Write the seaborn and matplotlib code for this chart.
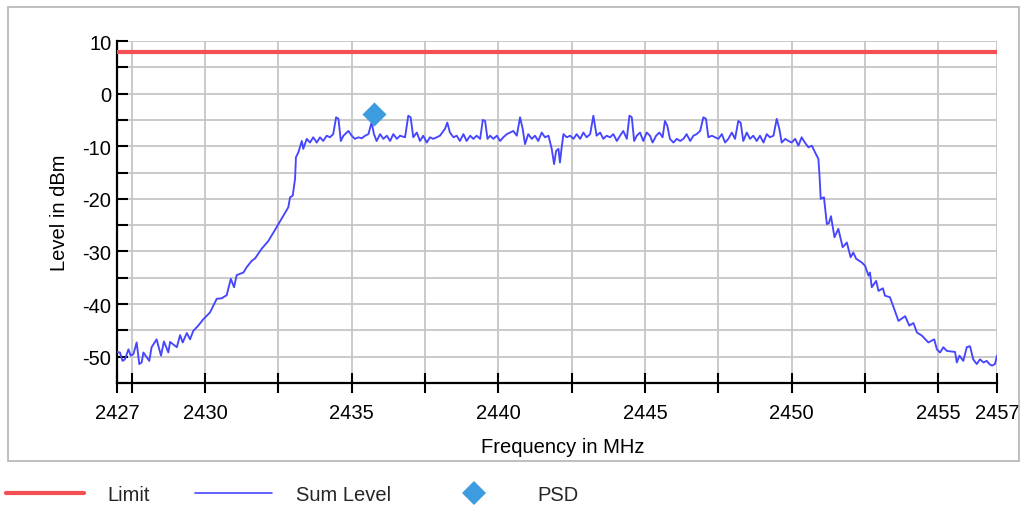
import matplotlib
matplotlib.use("Agg")
import matplotlib.pyplot as plt
from matplotlib.lines import Line2D
from matplotlib.patches import Rectangle
import seaborn as sns
import pandas as pd

# Measured spectrum trace (frequency in MHz, level in dBm)
freq_mhz = [
    2427.00, 2427.10, 2427.19, 2427.27, 2427.39, 2427.47, 2427.56, 2427.67, 2427.76, 2427.84,
    2427.90, 2428.01, 2428.10, 2428.18, 2428.35, 2428.50, 2428.60, 2428.75, 2428.81, 2429.04,
    2429.15, 2429.24, 2429.38, 2429.49, 2429.60, 2429.77, 2429.94, 2430.17, 2430.40, 2430.57,
    2430.74, 2430.88, 2430.99, 2431.08, 2431.31, 2431.42, 2431.59, 2431.71, 2431.93, 2432.16,
    2432.44, 2432.67, 2432.84, 2432.90, 2432.99, 2433.07,
    2433.10, 2433.18, 2433.30, 2433.35, 2433.47, 2433.58, 2433.69, 2433.81, 2433.92, 2434.03,
    2434.15, 2434.26, 2434.37, 2434.47, 2434.55, 2434.63, 2434.72, 2434.83, 2434.89, 2435.00,
    2435.11, 2435.23, 2435.34, 2435.46, 2435.57, 2435.68, 2435.76, 2435.85, 2435.97, 2436.08,
    2436.20, 2436.31, 2436.42, 2436.54, 2436.65, 2436.82, 2436.93, 2437.01, 2437.10, 2437.22,
    2437.33, 2437.44, 2437.56, 2437.67, 2437.78, 2437.90, 2438.01, 2438.18, 2438.26, 2438.35,
    2438.47, 2438.58,
    2438.69, 2438.81, 2438.92, 2439.04, 2439.15, 2439.26, 2439.38, 2439.47, 2439.55, 2439.63,
    2439.72, 2439.83, 2439.95, 2440.06, 2440.17, 2440.29, 2440.40, 2440.51, 2440.63, 2440.74,
    2440.83, 2440.91, 2441.02, 2441.14, 2441.25, 2441.36, 2441.48, 2441.59, 2441.71, 2441.82,
    2441.90, 2441.97, 2442.05, 2442.10, 2442.16, 2442.22, 2442.33, 2442.45, 2442.56, 2442.67,
    2442.79, 2442.90, 2443.01, 2443.13, 2443.24, 2443.35, 2443.47, 2443.58, 2443.69, 2443.81,
    2443.92, 2444.04, 2444.15, 2444.26, 2444.38, 2444.47,
    2444.55, 2444.63, 2444.72, 2444.83, 2444.94, 2445.06, 2445.17, 2445.26, 2445.38, 2445.49,
    2445.60, 2445.68, 2445.76, 2445.85, 2445.97, 2446.08, 2446.20, 2446.31, 2446.42, 2446.54,
    2446.65, 2446.76, 2446.88, 2446.99, 2447.08, 2447.16, 2447.28, 2447.39, 2447.50, 2447.62,
    2447.73, 2447.84, 2447.96, 2448.07, 2448.18, 2448.26, 2448.35, 2448.47, 2448.58, 2448.69,
    2448.81, 2448.92, 2449.04, 2449.15, 2449.26, 2449.38, 2449.49, 2449.58, 2449.66, 2449.78,
    2449.89, 2450.00, 2450.12, 2450.23, 2450.34, 2450.45, 2450.57, 2450.69, 2450.80, 2450.91,
    2450.95, 2450.99, 2451.10, 2451.20, 2451.27, 2451.34, 2451.46, 2451.59, 2451.74, 2451.88,
    2452.01, 2452.10, 2452.20, 2452.31, 2452.39, 2452.50, 2452.62, 2452.67, 2452.73, 2452.88,
    2452.96, 2453.11, 2453.18, 2453.35, 2453.52, 2453.64, 2453.87, 2454.01, 2454.15, 2454.27,
    2454.44, 2454.66, 2454.86, 2454.95, 2455.06, 2455.17, 2455.29, 2455.57, 2455.63, 2455.72,
    2455.85, 2455.97, 2456.08, 2456.19, 2456.31, 2456.42, 2456.54, 2456.65, 2456.74, 2456.83,
    2456.93, 2457.00,
]
level_dbm = [
    -49.1, -49.2, -50.8, -50.5, -48.6, -49.8, -49.5, -47.3, -51.4, -51.1,
    -49.2, -50.1, -50.8, -48.2, -46.7, -49.8, -47.1, -49.2, -47.2, -48.2,
    -45.9, -47.3, -45.5, -46.7, -45.1, -44.1, -42.9, -41.6, -39.0, -38.9,
    -38.3, -35.2, -36.8, -34.5, -34.0, -33.0, -31.8, -31.3, -29.5, -28.0,
    -25.4, -23.2, -21.6, -19.7, -19.4, -16.2,
    -12.1, -11.2, -9.0, -10.5, -8.6, -9.3, -8.3, -9.3, -8.3, -9.0,
    -8.0, -8.3, -7.7, -4.5, -4.8, -9.0, -8.0, -7.4, -7.1, -8.0,
    -8.6, -8.3, -8.5, -8.0, -7.7, -5.5, -7.7, -9.0, -7.7, -8.6,
    -8.0, -9.0, -7.7, -8.6, -8.0, -8.3, -4.2, -4.5, -8.3, -7.4,
    -9.0, -8.0, -9.3, -8.3, -8.6, -8.3, -8.0, -6.7, -5.5, -7.4,
    -8.3, -8.0,
    -9.0, -7.7, -9.0, -8.0, -8.6, -8.0, -8.6, -5.0, -5.2, -8.6,
    -8.0, -8.6, -8.0, -9.0, -8.3, -7.7, -7.4, -7.1, -8.0, -4.5,
    -6.7, -9.6, -7.7, -8.6, -8.0, -9.0, -7.4, -8.3, -8.0, -10.5,
    -13.4, -10.9, -10.5, -13.1, -10.2, -7.7, -8.3, -8.0, -8.6, -7.7,
    -8.6, -7.4, -8.3, -7.7, -4.2, -8.0, -7.4, -8.6, -8.0, -8.3,
    -7.7, -9.0, -8.0, -7.1, -8.6, -4.2,
    -4.5, -9.0, -8.0, -7.4, -9.0, -7.4, -8.0, -9.3, -8.0, -7.4,
    -8.3, -5.2, -6.1, -8.6, -9.3, -8.6, -9.0, -8.6, -7.7, -9.0,
    -8.0, -7.7, -7.1, -4.5, -4.8, -8.3, -8.0, -8.3, -8.6, -7.7,
    -9.3, -8.6, -7.4, -8.6, -5.2, -5.5, -9.0, -7.4, -8.6, -8.0,
    -9.0, -8.0, -9.3, -7.7, -8.3, -8.0, -4.8, -6.7, -9.3, -8.6,
    -9.0, -9.3, -8.6, -9.9, -8.3, -9.3, -10.2, -9.9, -11.2, -12.4,
    -15.6, -20.0, -19.7, -24.8, -24.6, -23.3, -27.3, -25.7, -29.2, -28.3,
    -31.1, -30.2, -31.4, -31.8, -32.1, -32.7, -34.6, -34.0, -36.8, -35.6,
    -37.5, -37.0, -38.4, -38.7, -41.3, -43.2, -42.3, -44.1, -43.6, -45.4,
    -46.0, -47.3, -46.7, -48.6, -49.2, -48.2, -48.9, -49.1, -51.1, -49.8,
    -50.8, -48.2, -48.0, -50.5, -51.4, -50.5, -51.1, -50.8, -51.4, -51.7,
    -51.4, -49.8,
]

# Limit line and PSD marker
limit_freq = [2427.0, 2457.0]
limit_dbm = [8.0, 8.0]
psd_freq = [2435.77]
psd_dbm = [-3.9]

# Axis ticks
x_ticks = [2427, 2427.5, 2430, 2432.5, 2435, 2437.5, 2440, 2442.5,
           2445, 2447.5, 2450, 2452.5, 2455, 2457]
x_tick_labels = ["2427", "", "2430", "", "2435", "", "2440", "",
                 "2445", "", "2450", "", "2455", "2457"]
y_ticks = [10, 5, 0, -5, -10, -15, -20, -25, -30, -35, -40, -45, -50]
y_tick_labels = ["10", "", "0", "", "-10", "", "-20", "", "-30", "", "-40", "", "-50"]

LIMIT_COLOR = "#f44f52"
TRACE_COLOR = "#4646ff"
PSD_COLOR = "#3d9be0"
GRID_COLOR = "#c6c6c6"

sns.set_theme(style="white")
plt.rcParams["font.family"] = ["Liberation Sans", "DejaVu Sans"]
FS = 14.5

W, H = 1034, 510
fig = plt.figure(figsize=(W / 100, H / 100), dpi=100)
fig.patch.set_facecolor("white")
ax = fig.add_axes([117 / W, 1 - 384 / H, (997 - 117) / W, (384 - 42) / H])
ax.set_facecolor("white")

# outer panel frame
fig.patches.append(Rectangle((8 / W, 1 - 462 / H), (1019 - 8) / W, (462 - 8) / H,
                             transform=fig.transFigure, fill=False,
                             edgecolor="#b4b4b4", linewidth=1.2, zorder=0))

trace = pd.DataFrame({"freq": freq_mhz, "level": level_dbm})
limit = pd.DataFrame({"freq": limit_freq, "level": limit_dbm})
psd = pd.DataFrame({"freq": psd_freq, "level": psd_dbm})

sns.lineplot(data=limit, x="freq", y="level", ax=ax, color=LIMIT_COLOR,
             linewidth=3, estimator=None, zorder=4)
sns.lineplot(data=trace, x="freq", y="level", ax=ax, color=TRACE_COLOR,
             linewidth=1.35, estimator=None, zorder=3)
sns.scatterplot(data=psd, x="freq", y="level", ax=ax, color=PSD_COLOR,
                marker="D", s=150, linewidth=0, zorder=5)

ax.set_xlim(2427, 2457)
ax.set_ylim(-55, 10)

ax.set_xticks(x_ticks)
ax.set_xticklabels(x_tick_labels, fontsize=FS)
ax.set_yticks(y_ticks)
ax.set_yticklabels(y_tick_labels, fontsize=FS)

ax.grid(True, color=GRID_COLOR, linewidth=1.3, zorder=0)
ax.set_axisbelow(True)

for side in ("top", "right"):
    ax.spines[side].set_visible(False)
for side in ("left", "bottom"):
    ax.spines[side].set_visible(True)
    ax.spines[side].set_color("black")
    ax.spines[side].set_linewidth(1.6)

ax.tick_params(axis="y", direction="in", length=8, width=1.5, color="black",
               pad=4, labelcolor="black", left=True)
ax.tick_params(axis="x", direction="inout", length=15, width=1.5, color="black",
               pad=7, labelcolor="black", bottom=True)

ax.set_xlabel("Frequency in MHz", fontsize=FS, color="black")
ax.set_ylabel("Level in dBm", fontsize=FS, color="black")
ax.xaxis.set_label_coords(0.507, -0.158)
ax.yaxis.set_label_coords(-0.054, 0.5)

handles = [
    Line2D([], [], color=LIMIT_COLOR, linewidth=3),
    Line2D([], [], color=TRACE_COLOR, linewidth=1.2),
    Line2D([], [], color=PSD_COLOR, marker="D", linestyle="", markersize=12,
           markeredgewidth=0),
]
fig.legend(handles, ["Limit", "Sum Level", "PSD"], loc="center left",
           bbox_to_anchor=(6 / W, 1 - 496 / H), ncol=3, frameon=False,
           handlelength=3.85, handletextpad=1.2, columnspacing=2.2,
           borderpad=0, borderaxespad=0, fontsize=FS)

fig.savefig("out.png", dpi=100, facecolor="white")
